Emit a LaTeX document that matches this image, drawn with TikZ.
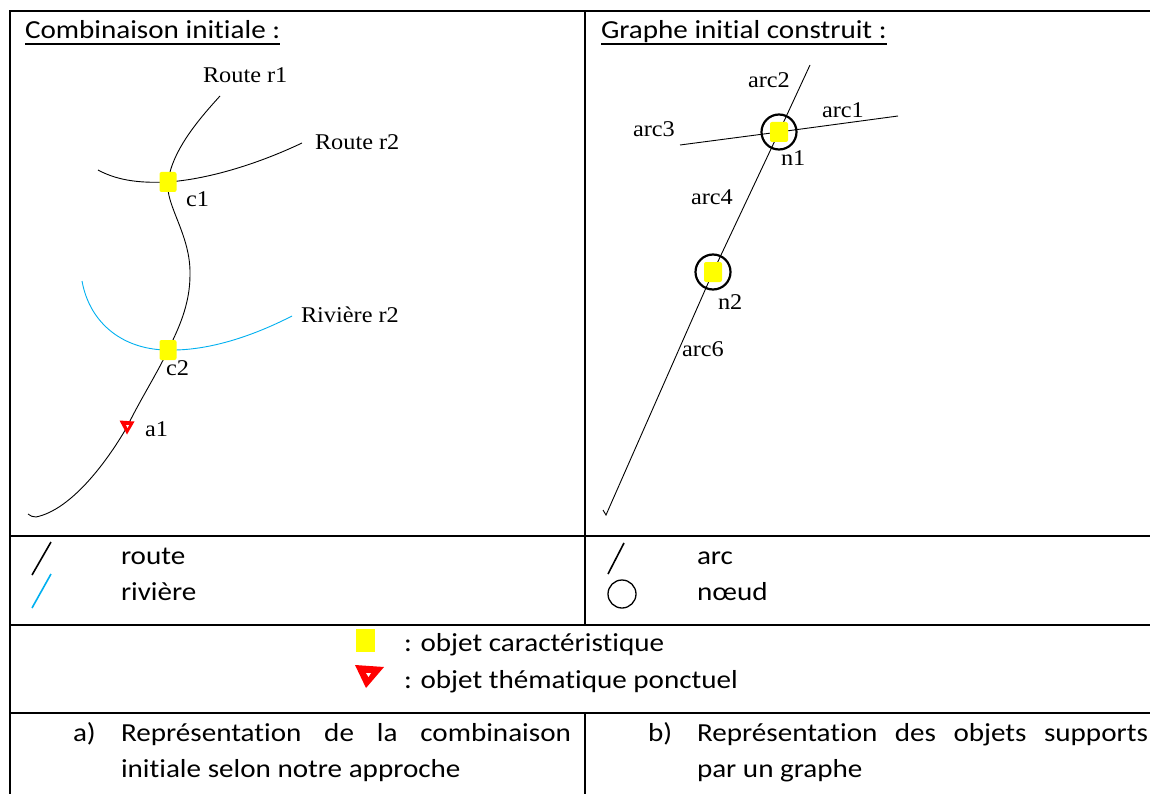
\documentclass[tikz,border=0pt]{standalone}
\usepackage{fontspec}
\newfontfamily\calib{Carlito}[FakeStretch=1.12, RawFeature={-liga,-clig,-calt}]
\newfontfamily\camb{Liberation Serif}[FakeStretch=1.08]
\definecolor{featyellow}{HTML}{FFFF00}
\definecolor{riverblue}{HTML}{00B0F0}
\definecolor{objred}{HTML}{FF0000}
\tikzset{
  lbl/.style={font=\camb\fontsize{22.5}{27}\selectfont, anchor=base west, inner sep=0pt, outer sep=0pt},
  txt/.style={font=\calib\fontsize{26}{31}\selectfont, anchor=base west, inner sep=0pt, outer sep=0pt},
  gridline/.style={line width=2pt},
  road/.style={line width=0.9pt, draw=black},
  river/.style={line width=0.9pt, draw=riverblue},
  feat/.style={fill=featyellow, draw=none, minimum width=17pt, minimum height=20pt, rounded corners=2pt, inner sep=0pt},
  gnode/.style={circle, draw=black, line width=2.2pt, minimum size=35pt, inner sep=0pt},
  uline/.style={line width=1.2pt},
}
\begin{document}
\begin{tikzpicture}[x=1pt,y=-1pt]
\useasboundingbox (0,0) rectangle (1150,794);
\clip (0,0) rectangle (1150,794);
\fill[white] (0,0) rectangle (1150,794);

% ---------- table ----------
\draw[gridline] (9.5,830) -- (9.5,11) -- (1170,11);
\draw[gridline] (9.5,536) -- (1170,536);
\draw[gridline] (9.5,625) -- (1170,625);
\draw[gridline] (9.5,713) -- (1170,713);
\draw[gridline] (585,11) -- (585,625);
\draw[gridline] (585,713) -- (585,830);

% ---------- titles ----------
\node[txt] (t1) at (25,39) {Combinaison initiale :};
\draw[uline] ([yshift=-5pt]t1.base west) -- ([yshift=-5pt]t1.base east);
\node[txt] (t2) at (601,39) {Graphe initial construit :};
\draw[uline] ([yshift=-5pt]t2.base west) -- ([yshift=-5pt]t2.base east);

% ---------- left panel : combination ----------
\coordinate (pc1) at (168,182);
\coordinate (pc2) at (168,350);
\coordinate (pa1) at (127,427);
\coordinate (r1top) at (220,96);
\coordinate (r1end) at (28,514);
\coordinate (r2left) at (98,170);
\coordinate (r2right) at (302,143);
\coordinate (rvleft) at (82,281);
\coordinate (rvright) at (292,316);

\draw[road] (r1top) .. controls (200,118) and (172,150) .. (pc1)
  .. controls (165,205) and (191,235) .. (190,275)
  .. controls (190,305) and (178,330) .. (pc2)
  .. controls (158,372) and (140,400) .. (pa1)
  .. controls (105,465) and (70,510) .. (36,517)
  .. controls (33,517) and (30,516) .. (r1end);
\draw[road] (r2left) .. controls (120,182) and (145,183) .. (pc1)
  .. controls (210,179) and (260,163) .. (r2right);
\draw[river] (rvleft) .. controls (90,325) and (125,350) .. (pc2)
  .. controls (210,351) and (255,335) .. (rvright);

\node[feat] (c1) at (pc1) {};
\node[feat] (c2) at (pc2) {};
\fill[objred] (119.5,420.5) -- (134.5,421.5) -- (127,434.5) -- cycle;
\fill[white] (126,425) -- (129,425) -- (127.5,428) -- cycle;
\coordinate (a1) at (pa1);

\node[lbl] (lr1) at (203,83) {Route r1};
\node[lbl] (lr2) at (315,150) {Route r2};
\node[lbl] (lc1) at (186,207) {c1};
\node[lbl] (lrv) at (301,322) {Rivière r2};
\node[lbl] (lc2) at (166,375) {c2};
\node[lbl] (la1) at (145,436) {a1};

% ---------- right panel : graph ----------
\coordinate (pn1) at (779,132);
\coordinate (pn2) at (713,272);
\coordinate (gtop) at (810,65);
\coordinate (gbot) at (606,515);
\coordinate (gleft) at (680,145);
\coordinate (gright) at (898,116);

\draw[road] (gtop) -- (pn1) -- (pn2) -- (gbot) -- (603,510);
\draw[road] (gleft) -- (pn1) -- (gright);

\node[gnode] (n1) at (pn1) {};
\node[gnode] (n2) at (pn2) {};
\node[feat, minimum width=18pt, minimum height=20pt] (y1) at (pn1) {};
\node[feat, minimum width=18pt, minimum height=20pt] (y2) at (pn2) {};

\node[lbl] (la2) at (748,88) {arc2};
\node[lbl] (la1r) at (822,118) {arc1};
\node[lbl] (la3) at (633,137) {arc3};
\node[lbl] (ln1) at (781,166) {n1};
\node[lbl] (la4) at (691,205) {arc4};
\node[lbl] (ln2) at (718,309) {n2};
\node[lbl] (la6) at (682,356) {arc6};

% ---------- legend ----------
\draw[line width=1.6pt] (32,575) -- (51,542);
\draw[line width=1.6pt, riverblue] (32,608) -- (51,574);
\node[txt] (lgroute) at (121,564) {route};
\node[txt] (lgriv) at (121,600) {rivière};

\draw[line width=1.6pt] (608,574) -- (624,543);
\draw[line width=1.3pt] (622,594) circle (14);
\node[txt] (lgarc) at (697,564) {arc};
\node[txt] (lgnoeud) at (697,600) {nœud};

% ---------- object symbols ----------
\fill[featyellow] (356,629) rectangle (375,652);
\node[txt] (lgcar) at (404,651) {: objet caractéristique};
\fill[objred] (355,665) -- (384,667) -- (366,688) -- cycle;
\fill[white] (366,673) -- (371,673) -- (368.5,677) -- cycle;
\node[txt] (lgthem) at (404,688) {: objet thématique ponctuel};

% ---------- captions ----------
\node[txt] (capa) at (73,741) {a)};
\node[txt] (capa1) at (121,741) {\makebox[450pt][s]{Représentation de la combinaison}};
\node[txt] (capa2) at (121,777) {initiale selon notre approche};
\node[txt] (capb) at (648,741) {b)};
\node[txt] (capb1) at (697,741) {\makebox[451pt][s]{Représentation des objets supports}};
\node[txt] (capb2) at (697,777) {par un graphe};
\end{tikzpicture}
\end{document}
